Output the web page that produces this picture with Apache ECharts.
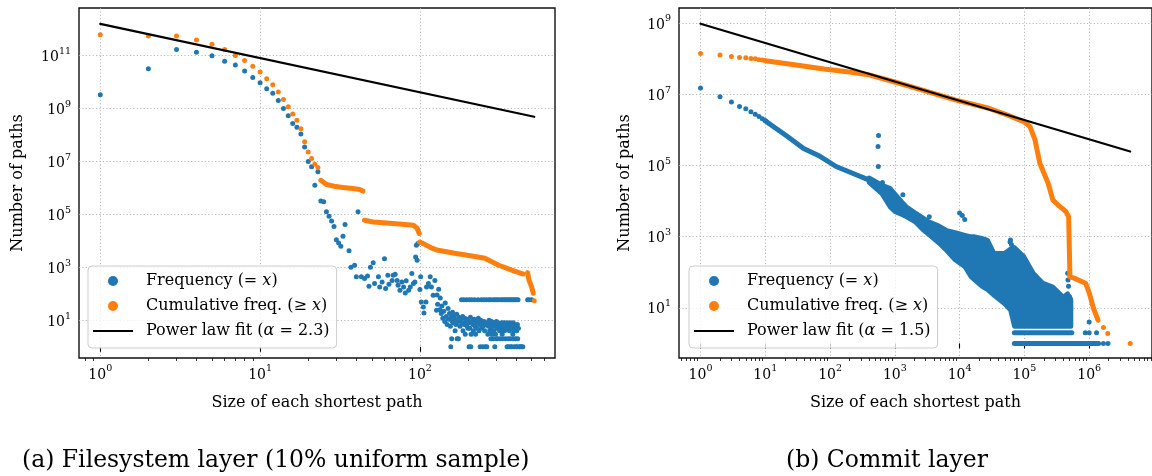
<!DOCTYPE html>
<html><head><meta charset="utf-8">
<script src="https://cdn.jsdelivr.net/npm/echarts@6/dist/echarts.min.js"></script>
<style>html,body{margin:0;padding:0;background:#fff}#c{width:1152px;height:476px}</style>
</head><body><div id="c"></div>
<script>
const BLUE = '#1f77b4', ORANGE = '#ff7f0e', FONT = 'DejaVu Serif';

// ---------- (a) Filesystem layer ----------
const fsFreq = [[1,3.3e9],[2,3.2e10],[3,1.7e11],[4,1.35e11],[5,9.8e10],[6,6.2e10],[7,4.4e10],[8,2.6e10],[9,1.5e10],[10,9.5e9],
 [11,5.6e9],[12,3.8e9],[13,2.0e9],[14,1.0e9],[15,5.4e8],[16,2.7e8],[17,1.95e8],[18,1.1e8],[19,3.5e7],[20,1.0e7],
 [21,6.3e6],[22,1.26e6],[23,4.1e6],[24,3.2e5],[25,3.0e5],[26,1.26e5],[27,8.5e4],[28,5.6e4],[29,3.5e4],[30,1.1e4],
 [31,8300],[32,6300],[33,15000],[34,42000],[36,4200],[37,1000],[39,1200],[40,440],[41,126000],[43,440],[45,380],[47,470],
 [48,195],[49,1000],[51,1500],[52,245],[55,440],[56,180],[58,280],[60,2100],[61,160],[63,500],[64,230],[67,320],[68,500],
 [70,550],[72,320],[73,210],[75,135],[77,280],[79,180],[81,107],[82,310],[85,135],[87,180],[89,590],[91,245],[93,280],
 [94,2450],[95,6900],[96,1860],[97,7900],[100,145],[101,440],[102,49],[105,32],[106,19],[109,49],[110,180],[113,245],
 [116,440],[118,180],[121,89],[124,320],[127,24],
 [128,90],[129,40],[131,150],[133,25],[134,70],[136,18],[137,35],[139,12],[141,22],[143,9],[144,45],[146,14],[148,7],
 [150,28],[151,11],[153,18],[155,6],[156,1],[157,13],[158,2],[159,9],[160,20],[162,8],[163,15],[165,11],[166,4],[168,7],
 [170,17],[171,2],[173,9],[174,2],[175,13],[178,6],[180,10],
 [182,60],[183,8],[185,14],[186,4],[188,60],[189,7],[191,12],[192,3],[194,9],[196,60],[197,6],[199,11],[200,5],[202,8],
 [203,1],[204,60],[205,5],[207,13],[208,1],[209,3],[211,60],[212,9],[214,7],[216,4],[218,11],[220,60],[221,6],[223,3],
 [225,9],[227,5],[229,8],[231,60],[232,12],[234,4],[236,7],[238,1],[240,10],[242,60],[243,5],[245,8],[247,1],[249,6],
 [251,60],[252,9],[254,4],[256,1],[258,7],[260,60],[262,1],[264,8],[266,3],[268,6],[270,60],[271,10],[273,4],[275,7],
 [277,60],[278,2],[279,5],[281,9],[283,3],[285,6],[287,60],[288,2],[289,8],[291,4],[293,7],[294,1],[295,60],[297,3],
 [299,6],[300,2],[301,9],[303,60],[305,5],[307,2],[309,8],[311,60],[313,6],[315,4],[317,2],[319,7],[321,60],[323,5],
 [325,8],[327,3],[329,60],[330,2],[331,6],[333,4],[335,8],[337,60],[339,4],[341,7],[343,2],[345,60],[347,5],[349,8],
 [351,1],[353,60],[355,6],[356,2],[357,1],[359,7],[361,60],[363,4],[365,8],[367,2],[368,1],[369,60],[371,5],[373,7],
 [375,1],[377,60],[379,6],[381,3],[382,2],[383,8],[385,60],[387,4],[389,1],[391,7],[393,60],[395,5],[397,2],[399,6],
 [400,1],[401,60],[403,4],[405,1],[407,7],[409,2],[411,60],[413,5],[418,1],[425,1],[432,1],[440,1],[472,60],[481,60],[500,60]];
const fsCumDots = [[1,6.2e11],[2,5.5e11],[3,5.5e11],[4,3.9e11],[5,2.7e11],[6,1.7e11],[7,1.02e11],[8,6.5e10],[9,4.0e10],
 [10,2.4e10],[11,1.35e10],[12,7.9e9],[13,4.2e9],[14,2.2e9],[15,1.17e9],[16,6.3e8],[17,3.6e8],[18,1.74e8],[19,5.6e7],
 [20,2.3e7],[21,1.3e7],[22,7.8e6],[23,5.9e6],[519,55]];
const fsCumRuns = [
 [[24,1.95e6],[26,1.35e6],[29,1.17e6],[33,1.05e6],[38,9.5e5],[42,8.7e5],[44,7.6e5]],
 [[45,6.0e4],[51,5.2e4],[68,4.5e4],[91,3.9e4],[96,3.0e4],[99,1.9e4]],
 [[99.5,9.1e3],[105,7.9e3],[120,5.2e3],[130,4.4e3],[165,3.4e3],[211,2.7e3],[255,2.2e3],[309,1.23e3],[375,790],[443,560]],
 [[472,630],[481,330],[500,178],[512,105]]
];
const fsFit = [[1,1.58e12],[519,4.9e8]];

// ---------- (b) Commit layer ----------
const cmFreqDots = [[1,1.5e7],[2,8.5e6],[3,6.0e6],[4,4.5e6],[5,3.9e6],[6,3.2e6],[7,2.75e6],[8,2.35e6],[9,2.05e6],[10,1.8e6],
 [560,6.9e5],[550,3.4e5],[555,9.3e4],[644,3.3e4],[1330,1.5e4],[3400,3.6e3],[1.0e4,4.6e3],[1.1e4,3.9e3],[1.2e4,3.0e3],
 [6.0e4,700],[6.1e4,800],[6.3e4,600],[4.66e5,93],[4.7e5,60],[4.8e5,40],[5.0e5,20],
 [8.7e5,2],[1.0e6,2],[1.3e6,2],[1.66e6,1],[1.95e6,1],[1.0e6,4]];
const cmFreqRun = [[10,1.8e6],[12,1.4e6],[22,6.5e5],[39,3.0e5],[70,1.8e5],[124,9.3e4],[222,6.0e4],[395,3.9e4]];
const cmBandX    = [400,630,840,1000,1340,1500,2100,2700,3400,4800,6300,8500,10000,12100,15000,17000,22000,27000,34000,49000,61000,70000,98000,138000,195000,275000,400000,466000,525000];
const cmBandLow  = [3.3e4,1.6e4,6.8e3,5.0e3,4.0e3,3.6e3,2.5e3,1.55e3,1.1e3,650,400,220,180,140,74,60,40,32,22,13,8.5,3,3,3,3,3,3,3,3];
const cmBandHigh = [4.5e4,2.8e4,2.3e4,1.6e4,8.7e3,7.0e3,4.6e3,3.4e3,2.6e3,2.0e3,1.5e3,1.3e3,1.2e3,1.1e3,1.0e3,1.0e3,900,800,340,340,450,500,280,93,49,39,20,25,17];
const cmFreqRows = [
 [[7.0e4,2],[5.4e5,2]],
 [[7.0e4,1],[1.35e5,1]],
 [[1.4e5,1],[1.4e6,1]]
];
const cmCumDots = [[1,1.38e8],[2,1.26e8],[3,1.15e8],[4,1.07e8],[5,1.05e8],[6,1.0e8],[7,9.8e7],[8,9.3e7],[9,9.1e7],[10,8.7e7],
 [1.66e6,2.8],[1.94e6,1.9],[4.3e6,1]];
const cmCumRun = [[10,8.7e7],[30,6.6e7],[80,5.1e7],[200,4.2e7],[400,3.5e7],[1000,2.2e7],[2680,1.3e7],[8550,6.9e6],[27200,4.1e6],
 [54600,2.6e6],[97500,1.7e6],[122000,1.23e6],[146000,5.2e5],[173000,1.15e5],[232000,3.2e4],[275000,1.07e4],[329000,7800],
 [439000,5000],[482000,3600],[505000,74],[586000,68],[881000,49],[1.01e6,25],[1.17e6,9.5],[1.37e6,4.5]];
const cmFit = [[1,9.5e8],[4.3e6,2.45e5]];

const fsXTicks = [0,1,2], fsYTicks = [1,3,5,7,9,11];
const cmXTicks = [0,1,2,3,4,5,6], cmYTicks = [1,3,5,7,9];

// ---------- helpers ----------
const L = v => Math.log10(v);
const P = arr => arr.map(p => [L(p[0]), L(p[1])]);
const minorList = (lo, hi) => { const o=[]; for (let n=-1;n<=7;n++) for (let k=2;k<=9;k++){ const v=n+Math.log10(k); if(v>lo&&v<hi) o.push(v);} return o; };
const supFmt = v => '{b|10}{s|' + Math.round(v) + '}';
const supRich = { b:{fontFamily:FONT,fontSize:14,color:'#000',lineHeight:18,verticalAlign:'bottom'},
                  s:{fontFamily:FONT,fontSize:9.5,color:'#000',lineHeight:11,verticalAlign:'top'} };
const nameStyle = {fontFamily:FONT,fontSize:16,color:'#000'};
const gridLine = {show:true,lineStyle:{color:'#b0b0b0',type:[1.2,2.2],width:0.9}};

function xMajor(gi,min,max,vals){ return {type:'value',gridIndex:gi,min,max,position:'bottom',
  axisLine:{show:false}, axisTick:{show:true,length:5,customValues:vals,lineStyle:{color:'#000',width:1.1}},
  axisLabel:{customValues:vals,margin:6,formatter:supFmt,rich:supRich}, splitLine:gridLine,
  name:'Size of each shortest path',nameLocation:'middle',nameGap:37,nameTextStyle:nameStyle}; }
function xMinor(gi,min,max){ return {type:'value',gridIndex:gi,min,max,position:'bottom',
  axisLine:{show:false}, axisTick:{show:true,length:3,customValues:minorList(min,max),lineStyle:{color:'#000',width:0.8}},
  axisLabel:{show:false}, splitLine:{show:false}}; }
function yMajor(gi,min,max,vals,gap){ return {type:'value',gridIndex:gi,min,max,
  axisLine:{show:false}, axisTick:{show:false,customValues:vals},
  axisLabel:{customValues:vals,margin:8,formatter:supFmt,rich:supRich}, splitLine:gridLine,
  name:'Number of paths',nameLocation:'middle',nameGap:gap,nameRotate:90,nameTextStyle:nameStyle}; }

const NAME_F = 'Frequency (= x)', NAME_C = 'Cumulative freq. (≥ x)';
const NAME_A = 'Power law fit (α = 2.3)', NAME_B = 'Power law fit (α = 1.5)';

function legendFmt(name){
  if (name === NAME_F) return '{f|Frequency (= }{i|x}{t|)}';
  if (name === NAME_C) return '{f|Cumulative freq. (≥ }{i|x}{t|)}';
  const a = name === NAME_A ? '2.3' : '1.5';
  return '{f|Power law fit (}{i|α}{t| = ' + a + ')}';
}
const LINE_ICON = 'path://M0,0L40,0L40,2.2L0,2.2Z';
function legend(left, fitName){ return {orient:'vertical',left,top:266,itemWidth:40,itemHeight:10,itemGap:8,
  data:[{name:NAME_F,icon:'circle',itemStyle:{color:BLUE,opacity:1}},{name:NAME_C,icon:'circle',itemStyle:{color:ORANGE,opacity:1}},
        {name:fitName,icon:LINE_ICON,itemStyle:{color:'#000'}}],
  padding:[6.5,7,8.5,5],backgroundColor:'rgba(255,255,255,0.8)',borderColor:'#cccccc',borderWidth:1,borderRadius:4,
  formatter:legendFmt, selectedMode:false,
  textStyle:{fontFamily:FONT,fontSize:16,color:'#000',lineHeight:17,
    rich:{f:{fontFamily:FONT,fontSize:16,lineHeight:17,padding:[0,0,0,8]},
          t:{fontFamily:FONT,fontSize:16,lineHeight:17},
          i:{fontFamily:FONT,fontSize:16,fontStyle:'italic',lineHeight:17}}}
  }; }

const dotS = (name,xi,yi,data,color) => ({name,type:'scatter',xAxisIndex:xi,yAxisIndex:yi,data:P(data),symbolSize:5,
  itemStyle:{color,opacity:1},silent:true,animation:false});
const runS = (name,xi,yi,data,color,w) => ({name,type:'line',xAxisIndex:xi,yAxisIndex:yi,data:P(data),symbol:'none',
  showSymbol:false,lineStyle:{color,width:w,cap:'round',join:'round'},itemStyle:{color},silent:true,animation:false});

const series = [];
// (a)
series.push(dotS(NAME_F,0,0,fsFreq,BLUE));
series.push(dotS(NAME_C,0,0,fsCumDots,ORANGE));
fsCumRuns.forEach(r => series.push(runS(NAME_C,0,0,r,ORANGE,5)));
series.push(runS(NAME_A,0,0,fsFit,'#000',2.2));
// (b)
series.push(dotS(NAME_F,2,1,cmFreqDots,BLUE));
series.push(runS(NAME_F,2,1,cmFreqRun,BLUE,5));
series.push({name:NAME_F,type:'custom',xAxisIndex:2,yAxisIndex:1,silent:true,animation:false,
  data:cmBandX.map((x,i)=>[L(x),L(cmBandLow[i]),L(cmBandHigh[i])]),
  encode:{x:0,y:[1,2]},
  renderItem:(params,api)=>{
    if (params.dataIndex !== 0) return null;
    const top = [], bot = [];
    for (let i = 0; i < cmBandX.length; i++) {
      top.push(api.coord([L(cmBandX[i]), L(cmBandHigh[i])]));
      bot.push(api.coord([L(cmBandX[i]), L(cmBandLow[i])]));
    }
    return {type:'polygon',shape:{points:top.concat(bot.reverse())},
      style:{fill:BLUE,stroke:BLUE,lineWidth:4.5,lineJoin:'round'}};
  }});
cmFreqRows.forEach(r => series.push(runS(NAME_F,2,1,r,BLUE,5)));
series.push(dotS(NAME_C,2,1,cmCumDots,ORANGE));
series.push(runS(NAME_C,2,1,cmCumRun,ORANGE,5));
series.push(runS(NAME_B,2,1,cmFit,'#000',2.2));

const capStyle = {fontFamily:FONT,fontSize:23.5,fontWeight:'normal',color:'#000'};
const chart = echarts.init(document.getElementById('c'), null, {renderer:'canvas'});
chart.setOption({
  animation:false,
  title:[
    {text:'(a) Filesystem layer (10% uniform sample)',left:17,top:444,textStyle:capStyle},
    {text:'(b) Commit layer',left:781,top:444,textStyle:capStyle}
  ],
  grid:[
    {left:79,top:8,width:476,height:350,show:true,borderColor:'#111',borderWidth:1.4,backgroundColor:'transparent'},
    {left:679,top:8,width:484,height:350,show:true,borderColor:'#111',borderWidth:1.4,backgroundColor:'transparent'}
  ],
  xAxis:[ xMajor(0,-0.133,2.845,fsXTicks), xMinor(0,-0.133,2.845), xMajor(1,-0.332,6.97,cmXTicks), xMinor(1,-0.332,6.97) ],
  yAxis:[ yMajor(0,-0.425,12.8,fsYTicks,53), yMajor(1,-0.41,9.42,cmYTicks,46) ],
  legend:[ legend(88,NAME_A), legend(689,NAME_B) ],
  series
});
</script></body></html>
